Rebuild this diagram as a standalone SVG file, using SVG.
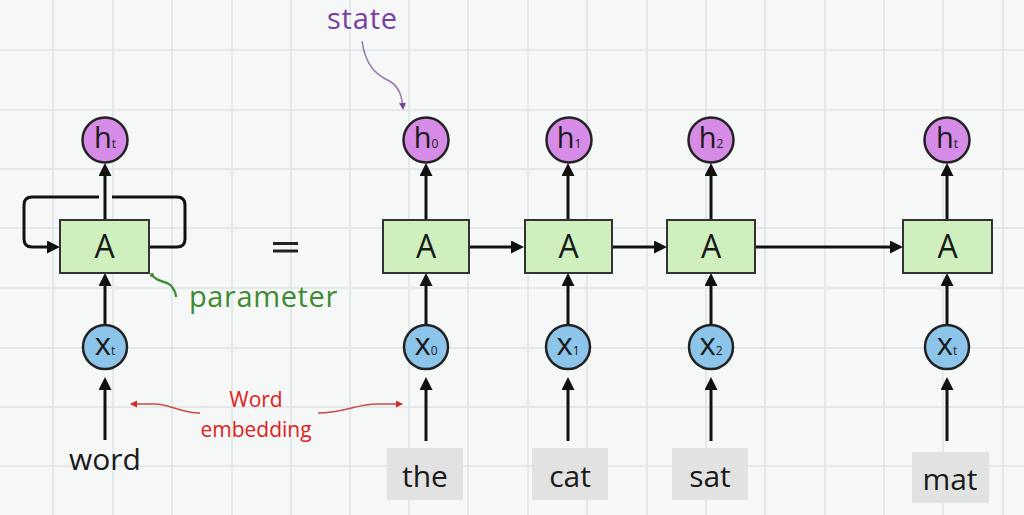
<svg xmlns="http://www.w3.org/2000/svg" width="1024" height="515" viewBox="0 0 1024 515">
  <style>
    .grid { stroke: #dde3e5; stroke-width: 1.5; fill: none; }
    .hc { fill: #d68be6; stroke: #222; stroke-width: 2.5; }
    .xc { fill: #8dc4ea; stroke: #222; stroke-width: 2.5; }
    .box { fill: #cfefbf; stroke: #333; stroke-width: 2; }
    .wbox { fill: #e2e2e2; }
    .t { font-family: "Open Sans", "Liberation Sans", sans-serif; fill: #1a1a1a; text-anchor: middle; }
    .lbl { font-size: 29px; }
    .xl { font-size: 31px; }
    .sub { font-size: 12px; }
    .A { font-size: 32px; }
    .word { font-size: 30px; }
    .arr { stroke: #111; stroke-width: 3; fill: none; marker-end: url(#ah); }
    .loop { stroke: #111; stroke-width: 3; fill: none; }
  </style>
  <defs>
    <marker id="ah" markerUnits="userSpaceOnUse" markerWidth="14" markerHeight="14" refX="9" refY="6.5" orient="auto">
      <path d="M0,0 L13,6.5 L0,13 z" fill="#111"/>
    </marker>
    <marker id="ahr" markerUnits="userSpaceOnUse" markerWidth="8" markerHeight="8" refX="6" refY="3.5" orient="auto">
      <path d="M0,0 L7,3.5 L0,7 z" fill="#d42a2a"/>
    </marker>
    <marker id="ahp" markerUnits="userSpaceOnUse" markerWidth="8" markerHeight="8" refX="5" refY="3.5" orient="auto">
      <path d="M0,0 L7,3.5 L0,7 z" fill="#7b3fa0"/>
    </marker>
  </defs>

  <rect width="1024" height="515" fill="#f6f8f8"/>
  <path class="grid" d="M53,0V515 M113,0V515 M172,0V515 M232,0V515 M291,0V515 M350,0V515 M409,0V515 M468,0V515 M528,0V515 M587,0V515 M647,0V515 M706,0V515 M765,0V515 M825,0V515 M884,0V515 M943,0V515 M1003,0V515 M0,50H1024 M0,110H1024 M0,169H1024 M0,228H1024 M0,288H1024 M0,348H1024 M0,407H1024 M0,466H1024"/>

  <g id="connectors">
    <!-- left recurrent cell -->
    <line class="arr" x1="105" y1="220" x2="105" y2="167"/>
    <line class="arr" x1="105" y1="325" x2="105" y2="277"/>
    <line class="arr" x1="105" y1="440" x2="105" y2="381"/>
    <path class="arr" d="M99,197 H32 Q24,197 24,205 V239 Q24,247 32,247 H56"/>
    <path class="loop" d="M149,247 H177 Q185,247 185,239 V205 Q185,197 177,197 H112"/>
    <!-- unrolled chain: up arrows -->
    <line class="arr" x1="426" y1="220" x2="426" y2="167"/>
    <line class="arr" x1="568" y1="220" x2="568" y2="167"/>
    <line class="arr" x1="711" y1="220" x2="711" y2="167"/>
    <line class="arr" x1="947" y1="220" x2="947" y2="167"/>
    <line class="arr" x1="426" y1="325" x2="426" y2="277"/>
    <line class="arr" x1="568" y1="325" x2="568" y2="277"/>
    <line class="arr" x1="711" y1="325" x2="711" y2="277"/>
    <line class="arr" x1="947" y1="325" x2="947" y2="277"/>
    <line class="arr" x1="426" y1="441" x2="426" y2="381"/>
    <line class="arr" x1="568" y1="441" x2="568" y2="381"/>
    <line class="arr" x1="711" y1="441" x2="711" y2="381"/>
    <line class="arr" x1="947" y1="441" x2="947" y2="381"/>
    <!-- horizontal chain -->
    <line class="arr" x1="469" y1="247" x2="520" y2="247"/>
    <line class="arr" x1="612" y1="247" x2="663" y2="247"/>
    <line class="arr" x1="755" y1="247" x2="899" y2="247"/>
    <!-- annotation curves -->
    <path d="M362,41 C366,70 380,76 391,82 C400,88 402,98 403,108" stroke="#9a7ab0" stroke-width="1.6" fill="none" marker-end="url(#ahp)"/>
    <path d="M151,274 C158,284 168,280 172,287 C175,291 176,294 176,297" stroke="#3f8a33" stroke-width="2.2" fill="none"/>
    <circle cx="152" cy="275" r="2" fill="#3f8a33"/>
    <path d="M200,413 C180,413 170,404 155,404 L131,404" stroke="#c94a4a" stroke-width="1.4" fill="none" marker-end="url(#ahr)"/>
    <path d="M318,413 C345,413 355,404 378,404 L402,404" stroke="#c94a4a" stroke-width="1.4" fill="none" marker-end="url(#ahr)"/>
  </g>

  <g id="left-h">
    <circle class="hc" cx="105" cy="140" r="22.5"/>
    <text class="t" x="105" y="148"><tspan class="lbl">h</tspan><tspan class="sub">t</tspan></text>
  </g>
  <g id="left-A">
    <rect class="box" x="60" y="220" width="89" height="53"/>
    <text class="t A" x="104.5" y="258">A</text>
  </g>
  <g id="left-x">
    <circle class="xc" cx="105" cy="347" r="22"/>
    <text class="t" x="105" y="355"><tspan class="xl">x</tspan><tspan class="sub">t</tspan></text>
  </g>
  <g id="left-word">
    <text class="t word" x="105" y="470">word</text>
  </g>

  <g id="equals">
    <path d="M273,243.5 H298 M273,251 H298" stroke="#222" stroke-width="3"/>
  </g>

  <g id="parameter-label">
    <text x="189" y="307" font-family="Open Sans, Liberation Sans, sans-serif" font-size="29" letter-spacing="0.6" fill="#3f8a33">parameter</text>
  </g>
  <g id="state-label">
    <text x="327" y="29" font-family="Open Sans, Liberation Sans, sans-serif" font-size="29" letter-spacing="0.8" fill="#7b3fa0">state</text>
  </g>
  <g id="embedding-label">
    <text class="t" x="256" y="407" font-size="21" style="fill:#e02020">Word</text>
    <text class="t" x="256" y="437" font-size="21" style="fill:#e02020">embedding</text>
  </g>

  <!-- h nodes -->
  <g id="h0"><circle class="hc" cx="426" cy="140" r="22.5"/><text class="t" x="426" y="148"><tspan class="lbl">h</tspan><tspan class="sub">0</tspan></text></g>
  <g id="h1"><circle class="hc" cx="569" cy="140" r="22.5"/><text class="t" x="569" y="148"><tspan class="lbl">h</tspan><tspan class="sub">1</tspan></text></g>
  <g id="h2"><circle class="hc" cx="711" cy="140" r="22.5"/><text class="t" x="711" y="148"><tspan class="lbl">h</tspan><tspan class="sub">2</tspan></text></g>
  <g id="ht"><circle class="hc" cx="947" cy="140" r="22.5"/><text class="t" x="947" y="148"><tspan class="lbl">h</tspan><tspan class="sub">t</tspan></text></g>

  <!-- A cells -->
  <g id="A0"><rect class="box" x="383" y="220" width="86" height="53"/><text class="t A" x="426" y="258">A</text></g>
  <g id="A1"><rect class="box" x="525" y="220" width="87" height="53"/><text class="t A" x="568.5" y="258">A</text></g>
  <g id="A2"><rect class="box" x="667" y="220" width="88" height="53"/><text class="t A" x="711" y="258">A</text></g>
  <g id="At"><rect class="box" x="903" y="220" width="89" height="53"/><text class="t A" x="947.5" y="258">A</text></g>

  <!-- x nodes -->
  <g id="x0"><circle class="xc" cx="426" cy="347" r="22"/><text class="t" x="426" y="355"><tspan class="xl">x</tspan><tspan class="sub">0</tspan></text></g>
  <g id="x1"><circle class="xc" cx="568" cy="347" r="22"/><text class="t" x="568" y="355"><tspan class="xl">x</tspan><tspan class="sub">1</tspan></text></g>
  <g id="x2"><circle class="xc" cx="711" cy="347" r="22"/><text class="t" x="711" y="355"><tspan class="xl">x</tspan><tspan class="sub">2</tspan></text></g>
  <g id="xt"><circle class="xc" cx="947" cy="347" r="22"/><text class="t" x="947" y="355"><tspan class="xl">x</tspan><tspan class="sub">t</tspan></text></g>

  <!-- words -->
  <g id="w-the"><rect class="wbox" x="387" y="448" width="76" height="52"/><text class="t word" x="425" y="487">the</text></g>
  <g id="w-cat"><rect class="wbox" x="532" y="448" width="76" height="52"/><text class="t word" x="570" y="487">cat</text></g>
  <g id="w-sat"><rect class="wbox" x="672" y="448" width="76" height="52"/><text class="t word" x="710" y="487">sat</text></g>
  <g id="w-mat"><rect class="wbox" x="912" y="452" width="77" height="51"/><text class="t word" x="950" y="490">mat</text></g>
</svg>
